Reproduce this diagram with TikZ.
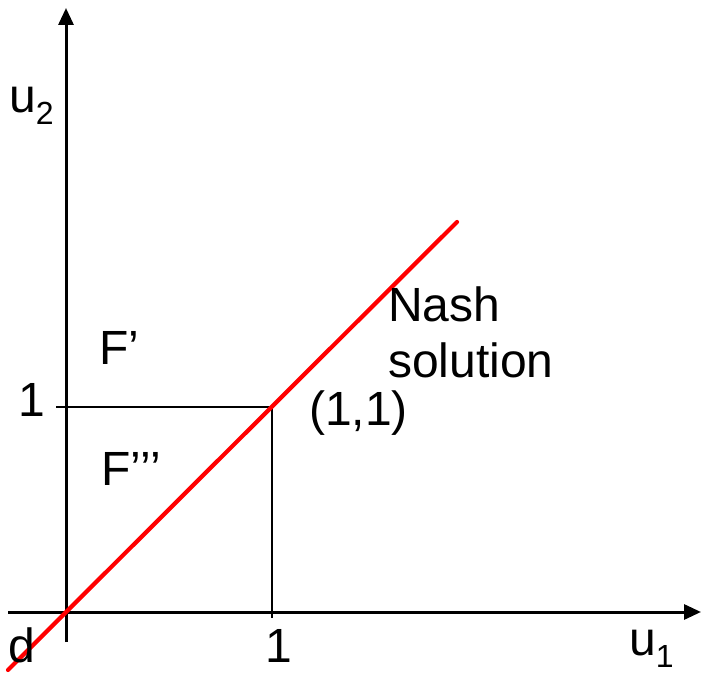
\documentclass[tikz,border=0pt]{standalone}
\usepackage{fontspec}
\setmainfont{Liberation Sans}
\usetikzlibrary{arrows.meta}
\tikzset{
  axis/.style={line width=3pt,-{Triangle[length=17pt,width=15pt]}},
  thin line/.style={line width=2.8pt},
  redline/.style={line width=4.2pt,red,line cap=round},
  lbl/.style={anchor=base west,inner sep=0pt,font=\fontsize{48}{56}\selectfont},
}
\begin{document}
\begin{tikzpicture}[x=1pt,y=1pt]
\useasboundingbox (0,0) rectangle (702,673);
% coordinates
\coordinate (ybot) at (66,31);
\coordinate (ytop) at (66,665);
\coordinate (xleft) at (8,61);
\coordinate (xtip) at (701,61);
\coordinate (P) at (272,266);
\coordinate (tickL) at (56,266);
\coordinate (tickB) at (272,55);
\coordinate (rA) at (8,3);
\coordinate (rB) at (457,451);
% axes
\draw[axis] (ybot) -- (ytop);
\draw[axis] (xleft) -- (xtip);
% box lines
\draw[thin line] (tickL) -- (P) -- (tickB);
% red line
\draw[redline] (rA) -- (rB);
% labels
\node[lbl] (u2) at (9,560) {u{\fontsize{32}{32}\selectfont\raisebox{-12pt}{2}}};
\node[lbl] (d) at (8,11) {d};
\node[lbl] (u1) at (629,18) {u{\fontsize{32}{32}\selectfont\raisebox{-12pt}{1}}};
\node[lbl] (one1) at (265,11) {1};
\node[lbl] (one2) at (18,256) {1};
\node[lbl] (Fp) at (99,308) {F’};
\node[lbl] (Fppp) at (101,188) {F’’’};
\node[lbl] (pt) at (309,247) {(1,1)};
\node[lbl] (nash) at (388,351) {Nash};
\node[lbl] (sol) at (388,295) {solution};
\end{tikzpicture}
\end{document}
